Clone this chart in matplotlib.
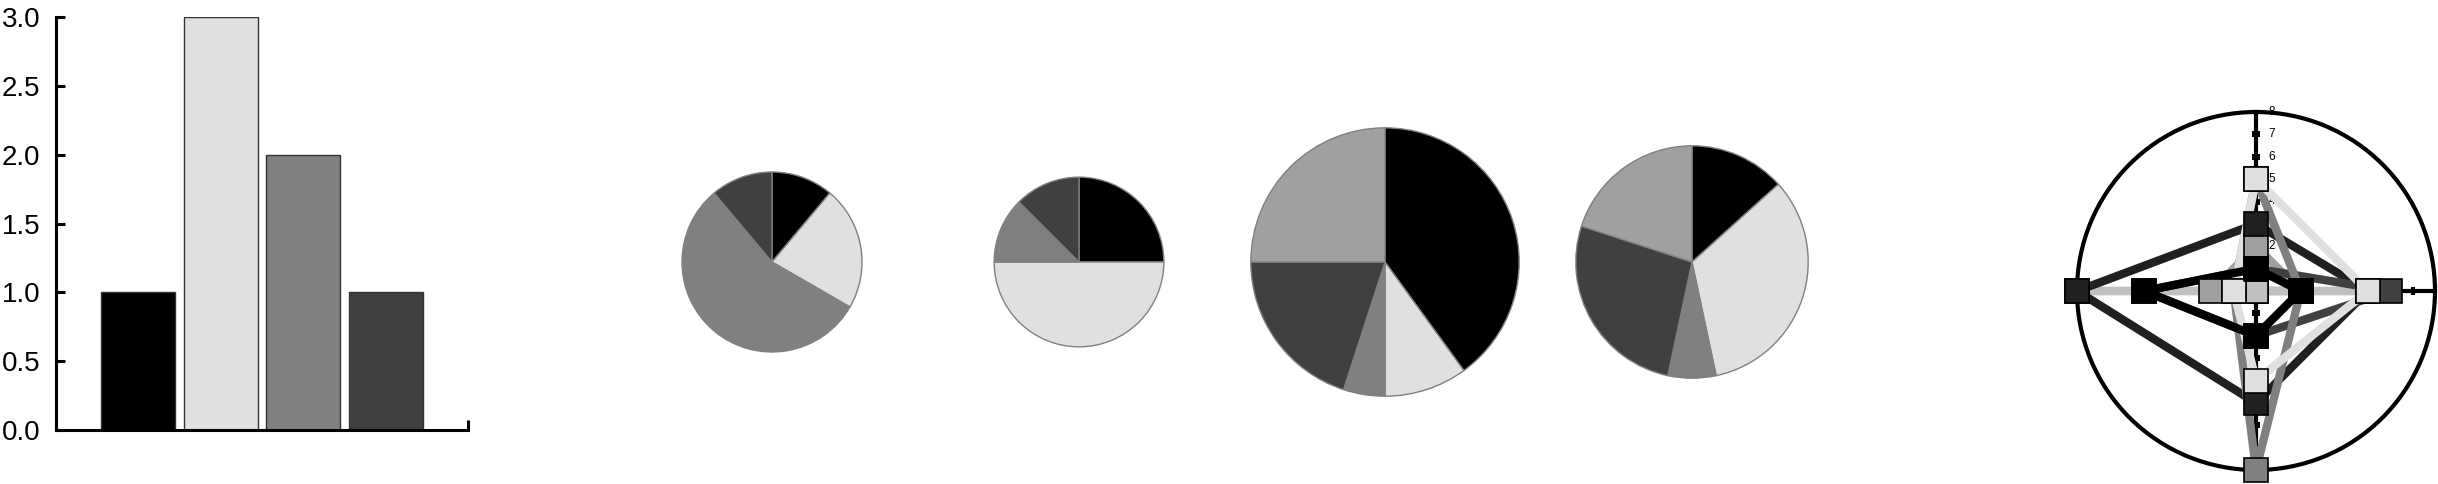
import numpy as np
import matplotlib
matplotlib.use('Agg')
import matplotlib.pyplot as plt

plt.rcParams['font.family'] = ['Liberation Sans', 'DejaVu Sans']

# ---------------- data ----------------
# bar chart
bar_categories = ['A', 'B', 'C', 'D']
bar_values = [1, 3, 2, 1]
bar_colors = ['#000000', '#e0e0e0', '#808080', '#404040']
bar_yticks = [0.0, 0.5, 1.0, 1.5, 2.0, 2.5, 3.0]

# pies (slice order: black, light, gray, dark, mid-gray)
pie_colors = ['#000000', '#e0e0e0', '#808080', '#404040', '#a0a0a0']
pie1 = [1, 2, 5, 1, 0]
pie2 = [2, 4, 1, 1, 0]
pie3 = [8, 2, 1, 4, 5]
pie4 = [2, 5, 1, 4, 3]

# radar (values on axes: top, right, bottom, left)
radar_angles_deg = [0, 90, 180, 270]
radar_ticks = [1, 2, 3, 4, 5, 6, 7, 8]
radar_a0 = [2, 2, 0, 2]
radar_c0 = [0, 5, 0, 8]
radar_20 = [3, 5, 5, 8]
radar_40 = [1, 6, 2, 5]
radar_80 = [5, 2, 8, 1]
radar_e0 = [5, 5, 4, 1]
radar_00 = [1, 2, 2, 5]

# ---------------- figure ----------------
W, H = 2438, 484
fig = plt.figure(figsize=(W / 100, H / 100), dpi=100)

# ---- bar chart ----
axb = fig.add_axes([56 / W, (H - 430) / H, 412 / W, 413 / H])
axb.bar(range(len(bar_values)), bar_values, width=0.9, color=bar_colors,
        edgecolor='#333333', linewidth=1.0)
axb.set_xlim(-1, 4)
axb.set_ylim(0, 3)
for s in ['top', 'right']:
    axb.spines[s].set_visible(False)
for s in ['left', 'bottom']:
    axb.spines[s].set_linewidth(2.2)
axb.set_yticks(bar_yticks)
axb.set_yticklabels(['%.1f' % v for v in bar_yticks])
axb.tick_params(axis='y', direction='in', length=6.5, width=2.2, pad=11.5,
                labelsize=20)
axb.set_xticks([4])
axb.set_xticklabels([''])
axb.tick_params(axis='x', direction='in', length=7, width=2.2)

# ---- pies ----
pies = [pie1, pie2, pie3, pie4]
pie_cx = [772, 1079, 1385, 1692]
pie_cy = 262
box = 300
for vals, cx in zip(pies, pie_cx):
    ax = fig.add_axes([(cx - box / 2) / W, (H - pie_cy - box / 2) / H, box / W, box / H])
    v = [x for x in vals if x > 0]
    c = [col for x, col in zip(vals, pie_colors) if x > 0]
    ax.pie(v, colors=c, startangle=90, counterclock=False,
           radius=30 * np.sqrt(sum(vals)),
           wedgeprops=dict(edgecolor='#808080', linewidth=1.0))
    ax.set_xlim(-box / 2, box / 2)
    ax.set_ylim(-box / 2, box / 2)
    ax.set_axis_off()

# ---- radar ----
R = 179
cxr, cyr = 2256, 291
axr = fig.add_axes([(cxr - R) / W, (H - cyr - R) / H, 2 * R / W, 2 * R / H],
                   projection='polar')
axr.set_theta_zero_location('N')
axr.set_theta_direction(-1)
axr.set_ylim(0, 8)
axr.set_xticks([])
axr.set_yticks([])
axr.grid(False)
axr.spines['polar'].set_linewidth(3)
axr.spines['polar'].set_color('black')

theta = np.deg2rad(radar_angles_deg)
for i, t in enumerate(theta):
    axr.plot([t, t], [0, 8], color='black', lw=3, zorder=1)
    mk = '_' if i % 2 == 0 else '|'
    axr.plot([t] * 7, radar_ticks[:7], ls='none', marker=mk, ms=6, mew=3,
             color='black', zorder=1)
for k in radar_ticks:
    axr.annotate(str(k), xy=(0, k), xytext=(9, 0), textcoords='offset points',
                 ha='left', va='center', fontsize=8.5, zorder=2)

series = [(radar_a0, '#a0a0a0'), (radar_c0, '#c0c0c0'), (radar_20, '#202020'),
          (radar_40, '#404040'), (radar_80, '#808080'), (radar_e0, '#e0e0e0'),
          (radar_00, '#000000')]
tt = np.append(theta, theta[0])
for i, (vals, col) in enumerate(series):
    axr.plot(tt, vals + [vals[0]], color=col, lw=6, zorder=3 + i * 0.01,
             solid_joinstyle='round', clip_on=False)
for i, (vals, col) in enumerate(series):
    axr.plot(theta, vals, ls='none', marker='s', ms=17.5, mfc=col, mec='black',
             mew=1.2, zorder=5 + i * 0.01, clip_on=False)

fig.savefig('out.png', dpi=100)
